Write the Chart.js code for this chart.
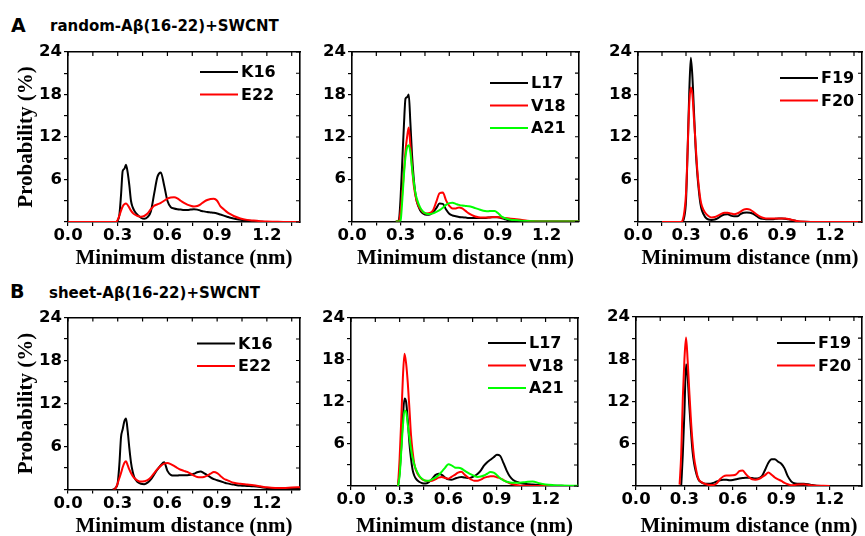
<!DOCTYPE html>
<html>
<head>
<meta charset="utf-8">
<script src="https://cdn.jsdelivr.net/npm/chart.js@4.4.0/dist/chart.umd.min.js"></script>
<style>
html, body { margin: 0; padding: 0; background: #fff; width: 865px; height: 536px; overflow: hidden; }
canvas { position: absolute; }
.lbl { position: absolute; font-family: "DejaVu Sans", sans-serif; font-weight: bold; color: #000; white-space: nowrap; line-height: 1; }
</style>
</head>
<body>
<div class="lbl" style="left:11px;top:16px;font-size:19px">A</div>
<div class="lbl" style="left:50px;top:19px;font-size:15px">random-Aβ(16-22)+SWCNT</div>
<div class="lbl" style="left:10px;top:282px;font-size:19px">B</div>
<div class="lbl" style="left:49px;top:286px;font-size:15px">sheet-Aβ(16-22)+SWCNT</div>
<script>
// minimum distance grid (nm), shared by every curve
const dist = [0, 0.02, 0.15,
  0.27, 0.28, 0.29, 0.30, 0.31, 0.32, 0.33, 0.34, 0.35, 0.36, 0.37, 0.38, 0.39, 0.40,
  0.42, 0.44, 0.46, 0.48, 0.50, 0.52, 0.54, 0.56, 0.58, 0.60, 0.62, 0.64, 0.66, 0.68, 0.70,
  0.72, 0.74, 0.76, 0.78, 0.80, 0.82, 0.84, 0.86, 0.88, 0.90, 0.92, 0.94, 0.96, 0.98, 1.00,
  1.04, 1.08, 1.12, 1.16, 1.20, 1.25, 1.30, 1.35, 1.40];

const xTicks = [0, 0.3, 0.6, 0.9, 1.2];
const xMinor = [0.15, 0.45, 0.75, 1.05, 1.35];
const yTicks = [6, 12, 18, 24];
const yMinor = [0, 3, 9, 15, 21];

// A: random-Abeta(16-22)+SWCNT, probability (%)
const aK16 = [0, 0, 0,
  0, 0, 0, 0.2, 1.0, 3.8, 7.2, 7.5, 8.1, 7.0, 5.2, 3.0, 2.1, 1.6,
  1.0, 0.6, 0.45, 0.7, 1.5, 4.0, 6.4, 7.0, 5.2, 3.0, 2.1, 1.9, 1.8, 1.75, 1.7,
  1.7, 1.75, 1.8, 1.75, 1.6, 1.5, 1.4, 1.35, 1.3, 1.2, 1.05, 0.9, 0.75, 0.6, 0.5,
  0.3, 0.2, 0.1, 0.05, 0, 0, 0, 0, 0];
const aE22 = [0, 0, 0,
  0, 0, 0, 0.3, 0.9, 1.6, 2.2, 2.5, 2.6, 2.4, 2.0, 1.6, 1.3, 1.1,
  0.85, 0.75, 0.85, 1.2, 1.8, 2.3, 2.5, 2.7, 3.0, 3.3, 3.45, 3.5, 3.35, 3.0, 2.7,
  2.45, 2.3, 2.2, 2.25, 2.5, 2.85, 3.1, 3.25, 3.3, 3.0, 2.2, 1.8, 1.4, 1.1, 0.85,
  0.5, 0.3, 0.2, 0.12, 0.06, 0.03, 0, 0, 0];
const aL17 = [null, null, null,
  0, 0, 0.3, 3.5, 8.5, 13.5, 17.4, 17.6, 18.0, 14.0, 9.5, 6.3, 4.1, 2.8,
  1.6, 1.1, 0.95, 1.0, 1.3, 1.9, 2.55, 2.5, 1.7, 1.1, 0.85, 0.75, 0.65, 0.6, 0.55,
  0.5, 0.5, 0.5, 0.5, 0.5, 0.5, 0.55, 0.6, 0.6, 0.6, 0.5, 0.35, 0.2, 0.12, 0.08,
  0.04, 0.02, 0, 0, 0, 0, 0, 0, 0];
const aV18 = [null, null, null,
  0, 0, 0.1, 1.5, 4.0, 7.0, 10.0, 12.0, 13.3, 10.8, 7.8, 5.3, 3.8, 2.8,
  1.8, 1.3, 1.15, 1.2, 1.6, 2.8, 4.0, 4.1, 3.0, 2.2, 1.85, 1.85, 2.0, 1.85, 1.5,
  1.15, 0.9, 0.7, 0.6, 0.55, 0.55, 0.55, 0.6, 0.65, 0.6, 0.55, 0.5, 0.45, 0.4, 0.35,
  0.25, 0.1, 0.03, 0, 0, 0, 0, 0, 0];
const aA21 = [null, null, null,
  0, 0, 0, 0.2, 3.0, 6.5, 9.2, 10.5, 10.8, 9.8, 7.6, 5.8, 4.2, 3.2,
  2.0, 1.35, 1.1, 1.05, 1.15, 1.35, 1.6, 1.95, 2.35, 2.6, 2.65, 2.5, 2.35, 2.25, 2.2,
  2.15, 2.05, 1.9, 1.75, 1.6, 1.5, 1.45, 1.5, 1.5, 1.2, 0.75, 0.5, 0.35, 0.25, 0.2,
  0.12, 0.06, 0.03, 0, 0, 0, 0, 0, 0];
const aF19 = [null, 0, 0,
  0, 0.1, 0.8, 3.0, 10.0, 18.0, 23.2, 20.5, 15.5, 10.5, 7.0, 4.5, 2.6, 1.6,
  0.7, 0.35, 0.3, 0.35, 0.55, 0.85, 1.05, 1.1, 0.9, 0.8, 0.8, 1.1, 1.3, 1.35, 1.3,
  1.15, 0.85, 0.55, 0.45, 0.4, 0.4, 0.4, 0.45, 0.5, 0.5, 0.45, 0.4, 0.3, 0.2, 0.08,
  0.02, 0, 0, 0, 0, 0, 0, 0, 0];
const aF20 = [null, null, 0,
  0, 0.3, 1.5, 4.0, 10.0, 16.5, 19.0, 18.0, 14.5, 11.0, 7.5, 5.0, 3.2, 2.2,
  1.3, 0.85, 0.65, 0.7, 0.9, 1.15, 1.3, 1.3, 1.2, 1.1, 1.2, 1.45, 1.75, 1.85, 1.75,
  1.45, 1.1, 0.8, 0.6, 0.5, 0.5, 0.48, 0.48, 0.5, 0.5, 0.48, 0.42, 0.32, 0.2, 0.1,
  0.02, 0, 0, 0, 0, 0, 0, 0, 0];

// B: sheet-Abeta(16-22)+SWCNT, probability (%)
const bK16 = [null, null, null,
  0, 0.05, 0.3, 0.9, 3.5, 7.3, 8.4, 9.5, 9.9, 8.2, 5.8, 3.8, 2.5, 1.7,
  1.05, 0.8, 0.75, 0.95, 1.4, 2.1, 2.8, 3.4, 3.8, 2.6, 2.05, 1.95, 1.95, 2.0, 2.0,
  2.0, 2.05, 2.2, 2.4, 2.5, 2.3, 2.0, 1.7, 1.45, 1.3, 1.15, 1.0, 0.85, 0.75, 0.68,
  0.55, 0.5, 0.45, 0.35, 0.22, 0.15, 0.14, 0.14, 0.14];
const bE22 = [null, null, null,
  0, 0, 0.3, 0.9, 1.6, 2.3, 3.1, 3.7, 3.95, 3.4, 2.8, 2.3, 1.9, 1.6,
  1.25, 1.1, 1.15, 1.3, 1.7, 2.3, 2.85, 3.3, 3.6, 3.7, 3.55, 3.3, 3.0, 2.75, 2.6,
  2.45, 2.2, 1.95, 1.75, 1.7, 1.75, 1.95, 2.2, 2.45, 2.3, 1.9, 1.5, 1.3, 1.1, 0.95,
  0.8, 0.7, 0.6, 0.45, 0.3, 0.22, 0.22, 0.28, 0.32];
const bL17 = [null, null, null,
  null, null, 0, 2.0, 5.5, 9.8, 12.5, 12.0, 9.4, 6.2, 3.9, 2.3, 1.5, 1.05,
  0.6, 0.4, 0.35, 0.55, 1.0, 1.55, 1.75, 1.6, 1.2, 0.95, 0.9, 1.05, 1.2, 1.3, 1.2,
  1.15, 1.2, 1.4, 1.7, 2.2, 2.9, 3.4, 3.75, 4.1, 4.45, 4.3, 3.3, 2.2, 1.35, 0.85,
  0.45, 0.27, 0.2, 0.17, 0.1, 0.05, 0.03, 0, 0];
const bV18 = [null, null, null,
  null, null, 0, 4.0, 9.5, 15.5, 18.9, 17.5, 14.8, 11.2, 7.3, 4.9, 3.2, 2.3,
  1.4, 0.95, 0.75, 0.7, 0.75, 0.95, 1.2, 1.3, 1.15, 1.05, 1.3, 1.6, 1.9, 2.05, 1.65,
  1.25, 0.95, 0.75, 0.75, 0.9, 1.15, 1.3, 1.4, 1.4, 1.25, 1.1, 0.85, 0.6, 0.4, 0.25,
  0.08, 0.03, 0, 0, 0, 0, 0, 0, 0];
const bA21 = [null, null, null,
  null, null, 0, 1.5, 5.0, 8.5, 10.8, 10.6, 8.8, 7.0, 5.3, 4.0, 3.1, 2.4,
  1.5, 1.0, 0.75, 0.75, 0.95, 1.2, 1.55, 2.05, 2.6, 3.1, 2.95, 2.65, 2.6, 2.5, 2.2,
  1.9, 1.65, 1.45, 1.3, 1.35, 1.5, 1.75, 2.0, 1.9, 1.55, 1.1, 0.8, 0.6, 0.5, 0.45,
  0.48, 0.58, 0.65, 0.4, 0.22, 0.12, 0.07, 0.05, 0.05];
const bF19 = [null, null, null,
  null, 0, 4.5, 10.5, 17.3, 15.5, 11.5, 8.0, 5.0, 3.2, 2.1, 1.3, 0.8, 0.6,
  0.35, 0.32, 0.33, 0.45, 0.65, 0.8, 0.88, 0.88, 0.8, 0.85, 0.95, 1.05, 1.13, 1.18, 1.18,
  1.12, 1.08, 1.12, 1.4, 2.3, 3.3, 3.8, 3.8, 3.45, 3.15, 2.5, 1.4, 0.7, 0.38, 0.33,
  0.32, 0.18, 0.04, 0, null, null, null, null, null];
const bF20 = [null, null, null,
  0.2, 4.5, 12.5, 18.0, 21.1, 17.8, 13.5, 9.5, 6.3, 4.0, 2.6, 1.5, 0.9, 0.65,
  0.38, 0.22, 0.15, 0.15, 0.4, 0.95, 1.35, 1.5, 1.5, 1.52, 1.65, 2.1, 2.2, 1.7, 1.25,
  0.95, 0.9, 1.0, 1.25, 1.55, 1.9, 1.6, 1.2, 0.95, 0.72, 0.45, 0.25, 0.12, 0.15, 0.22,
  0.25, 0.12, 0.04, 0.02, 0, null, null, null, null];

const BLACK = '#000000', RED = '#ff0000', GREEN = '#00ff00';

const panels = [
  { canvas: [0, 36, 305, 233], plot: [68, 52, 300, 222], yTitle: true, legend: [100, 20],
    series: [['K16', aK16, BLACK], ['E22', aE22, RED]] },
  { canvas: [310, 36, 274, 233], plot: [352, 52, 579, 221.5], yTitle: false, legend: [89, 31],
    series: [['L17', aL17, BLACK], ['V18', aV18, RED], ['A21', aA21, GREEN]] },
  { canvas: [595, 36, 270, 233], plot: [638, 52, 862, 222], yTitle: false, legend: [82, 26],
    series: [['F19', aF19, BLACK], ['F20', aF20, RED]] },
  { canvas: [0, 301, 305, 236], plot: [68, 317.5, 300, 489.5], yTitle: true, legend: [103, 26],
    series: [['K16', bK16, BLACK], ['E22', bE22, RED]] },
  { canvas: [310, 301, 274, 236], plot: [351, 318, 578, 486], yTitle: false, legend: [90, 25],
    series: [['L17', bL17, BLACK], ['V18', bV18, RED], ['A21', bA21, GREEN]] },
  { canvas: [595, 301, 270, 236], plot: [636, 317, 862, 486], yTitle: false, legend: [85, 26],
    series: [['F19', bF19, BLACK], ['F20', bF20, RED]] }
];

const tickFont = { family: 'DejaVu Sans', weight: 'bold', size: 16.5 };
const titleFont = { family: 'Liberation Serif', weight: 'bold', size: 21, lineHeight: 1 };
const axisBorder = { display: true, color: '#000', width: 1.6 };
const outTicks = { display: true, drawOnChartArea: false, drawTicks: true, tickLength: 4, color: '#000', lineWidth: 1.2 };
const xAll = [...xTicks, ...xMinor].sort((p, q) => p - q);
const yAll = [...yTicks, ...yMinor].sort((p, q) => p - q);

// inward ticks on the top and right edges, and the legend inside the plot
const decorPlugin = {
  id: 'decor',
  afterDatasetsDraw(chart, args, opts) {
    const ctx = chart.ctx;
    const a = chart.chartArea;
    const xs = chart.scales.x, ys = chart.scales.y;
    ctx.save();
    ctx.strokeStyle = '#000';
    ctx.lineWidth = 1.2;
    ctx.beginPath();
    xAll.forEach(v => {
      const px = xs.getPixelForValue(v);
      ctx.moveTo(px, a.top); ctx.lineTo(px, a.top + 4);
    });
    yAll.forEach(v => {
      const py = ys.getPixelForValue(v);
      ctx.moveTo(a.right, py); ctx.lineTo(a.right - 4, py);
    });
    ctx.stroke();

    ctx.font = 'bold 16px "DejaVu Sans"';
    ctx.textBaseline = 'middle';
    chart.data.datasets.forEach((ds, i) => {
      const y = a.top + opts.dy + i * 22.5;
      const x0 = a.right - opts.dx;
      ctx.strokeStyle = ds.borderColor;
      ctx.lineWidth = 2;
      ctx.beginPath();
      ctx.moveTo(x0, y);
      ctx.lineTo(x0 + 38, y);
      ctx.stroke();
      ctx.fillStyle = '#000';
      ctx.fillText(ds.label, x0 + 41, y + 1);
    });
    ctx.restore();
  }
};

function makePanel(p) {
  const [cx, cy, cw, ch] = p.canvas;
  const [L, T, R, B] = p.plot;
  const cv = document.createElement('canvas');
  cv.width = cw; cv.height = ch;
  cv.style.left = cx + 'px'; cv.style.top = cy + 'px';
  cv.style.width = cw + 'px'; cv.style.height = ch + 'px';
  document.body.appendChild(cv);
  const n = p.series.length;
  new Chart(cv, {
    type: 'line',
    data: {
      datasets: p.series.map(([name, vals, color], i) => ({
        label: name,
        data: dist.map((d, k) => ({ x: d, y: vals[k] })),
        borderColor: color, borderWidth: 2, pointRadius: 0,
        cubicInterpolationMode: 'monotone', spanGaps: false, order: n - i
      }))
    },
    options: {
      responsive: false, animation: false, devicePixelRatio: 1,
      layout: { padding: { left: 0, top: T - cy, right: cx + cw - R, bottom: 0 } },
      scales: {
        x: {
          type: 'linear', position: 'bottom', min: 0, max: 1.4,
          afterBuildTicks: s => { s.ticks = xAll.map(v => ({ value: v })); },
          afterFit: s => { s.height = cy + ch - B; },
          grid: outTicks, border: axisBorder,
          ticks: { padding: 0, color: '#000', font: tickFont, maxRotation: 0, autoSkip: false,
                   callback: v => (xTicks.indexOf(v) >= 0 ? Number(v).toFixed(1) : '') },
          title: { display: true, text: 'Minimum distance (nm)', color: '#000', font: titleFont, padding: 0 }
        },
        y: {
          type: 'linear', position: 'left', min: 0, max: 24,
          afterBuildTicks: s => { s.ticks = yAll.map(v => ({ value: v })); },
          afterFit: s => { s.width = L - cx; },
          grid: outTicks, border: axisBorder,
          ticks: { padding: 2, color: '#000', font: tickFont, autoSkip: false,
                   callback: v => (yTicks.indexOf(v) >= 0 ? String(v) : '') },
          title: { display: p.yTitle, text: 'Probability (%)', color: '#000', font: titleFont, padding: { top: 16.5, bottom: 0 } }
        },
        x2: {
          type: 'linear', position: 'top', display: true, min: 0, max: 1.4,
          afterFit: s => { s.height = 0; },
          grid: { display: false, drawTicks: false }, ticks: { display: false }, border: axisBorder
        },
        y2: {
          type: 'linear', position: 'right', display: true, min: 0, max: 24,
          afterFit: s => { s.width = 0; },
          grid: { display: false, drawTicks: false }, ticks: { display: false }, border: axisBorder
        }
      },
      plugins: { legend: { display: false }, tooltip: { enabled: false }, decor: { dx: p.legend[0], dy: p.legend[1] } }
    },
    plugins: [decorPlugin]
  });
}

panels.forEach(makePanel);
</script>
</body>
</html>
